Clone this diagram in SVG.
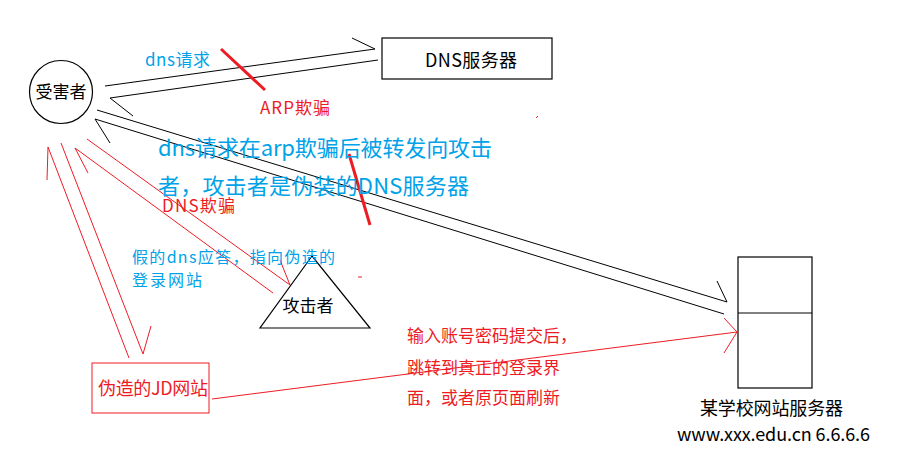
<svg xmlns="http://www.w3.org/2000/svg" width="898" height="462" viewBox="0 0 898 462">
<style>
text{font-family:"Microsoft YaHei","Noto Sans CJK SC","Noto Sans",sans-serif;}
.k{fill:#000;}
.b{fill:#00A2E8;}
.r{fill:#ED1C24;}
.ln{fill:none;stroke:#000;stroke-width:1;}
.rl{fill:none;stroke:#ED1C24;stroke-width:1;}
.rt{fill:none;stroke:#ED1C24;stroke-width:3;}
.shape{fill:#fff;stroke:#000;stroke-width:1.2;}
</style>
<rect width="898" height="462" fill="#fff"/>
<g id="connectors">
  <polyline class="ln" points="105,86 375,49 352,38"/>
  <polyline class="ln" points="378,60 110,98 133,116"/>
  <polyline class="ln" points="97,110 727,302 717,281"/>
  <polyline class="ln" points="724,314 95,119 110,143"/>
  <polyline class="rl" points="87,139 290,285 280,260"/>
  <polyline class="rl" points="273,293 75,148 88,173"/>
  <polyline class="rl" points="129,358 48,147 47,180"/>
  <polyline class="rl" points="61,143 143,354 151,326"/>
  <polyline class="rl" points="212,399 737,332"/>
  <polyline class="rl" points="724,318 737,332 724,353"/>
  <line class="rt" x1="221" y1="49" x2="265" y2="90"/>
  <line class="rt" x1="349" y1="154" x2="370" y2="225"/>
  <line class="rl" x1="358" y1="277" x2="362" y2="277"/>
  <line class="rl" x1="536" y1="118" x2="538" y2="116"/>
</g>
<g id="victim">
  <circle class="shape" cx="61" cy="92" r="31.5"/>
  <text class="k" x="61" y="98" font-size="17" text-anchor="middle">受害者</text>
</g>
<g id="dns-server">
  <rect class="shape" x="382" y="38" width="170" height="41"/>
  <text class="k" x="425" y="67" font-size="18" textLength="92">DNS服务器</text>
</g>
<g id="attacker">
  <polygon class="shape" points="312,256 260,328 370,328"/>
  <text class="k" x="308" y="312" font-size="17" text-anchor="middle">攻击者</text>
</g>
<g id="fake-jd">
  <rect fill="#fff" stroke="#ED1C24" stroke-width="1" x="92" y="363" width="117" height="50"/>
  <text class="r" x="98" y="395" font-size="18" textLength="110">伪造的JD网站</text>
</g>
<g id="school-server">
  <rect class="shape" x="738" y="257" width="74" height="131"/>
  <line class="ln" x1="738" y1="313" x2="812" y2="313"/>
  <text class="k" x="700" y="415" font-size="18" textLength="143">某学校网站服务器</text>
  <text class="k" x="677" y="441" font-size="18" textLength="193">www.xxx.edu.cn 6.6.6.6</text>
</g>
<g id="labels">
  <text class="b" x="145" y="66" font-size="17" textLength="65">dns请求</text>
  <text class="r" x="260" y="113.5" font-size="17" textLength="70">ARP欺骗</text>
  <text class="b" x="158" y="156" font-size="22" textLength="334">dns请求在arp欺骗后被转发向攻击</text>
  <text class="b" x="158" y="194" font-size="22" textLength="311">者，攻击者是伪装的DNS服务器</text>
  <text class="r" x="162" y="211.5" font-size="17" textLength="73">DNS欺骗</text>
  <text class="b" x="132" y="263" font-size="16" textLength="203">假的dns应答，指向伪造的</text>
  <text class="b" x="132" y="286" font-size="16" textLength="70">登录网站</text>
  <text class="r" x="407" y="341.5" font-size="17">输入账号密码提交后，</text>
  <text class="r" x="407" y="373.5" font-size="17">跳转到真正的登录界</text>
  <text class="r" x="407" y="403.5" font-size="17">面，或者原页面刷新</text>
</g>
</svg>
